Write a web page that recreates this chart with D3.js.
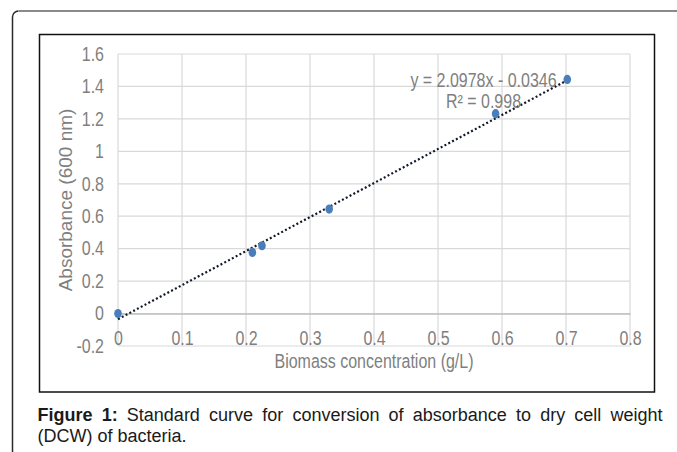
<!DOCTYPE html>
<html>
<head>
<meta charset="utf-8">
<script src="https://cdn.jsdelivr.net/npm/d3@7"></script>
<style>
    body { margin: 0; background: #fff; }
    svg { display: block; font-family: "Liberation Sans", Arial, sans-serif; }
</style>
</head>
<body>
<svg id="chart"></svg>
<script>
// Data
const concentration = [0, 0.21, 0.225, 0.33, 0.59, 0.702];   // g/L
const absorbance = [0, 0.377, 0.418, 0.644, 1.232, 1.443];   // 600 nm
const xTicks = [0, 0.1, 0.2, 0.3, 0.4, 0.5, 0.6, 0.7, 0.8];
const yTicks = [-0.2, 0, 0.2, 0.4, 0.6, 0.8, 1, 1.2, 1.4, 1.6];
const trendSlope = 2.0978;
const trendIntercept = -0.0346;
const equationLines = ["y = 2.0978x - 0.0346", "R² = 0.998"];
const captionBold = "Figure 1:";
const captionLine1 = "Standard curve for conversion of absorbance to dry cell weight";
const captionLine2 = "(DCW) of bacteria.";

class StandardCurve {
    constructor(_config) {
        this.config = {
            parentElement: _config.parentElement,
            containerWidth: 677,
            containerHeight: 452,
            margin: { top: 54, left: 118 },
            width: 512,
            height: 292
        };
        this.initVis();
    }

    initVis() {
        let vis = this;
        const m = vis.config.margin;
        const narrow = 0.82; // chart text is squeezed horizontally
        const textColor = "#7f7f7f";

        vis.svg = d3.select(vis.config.parentElement)
            .attr("width", vis.config.containerWidth)
            .attr("height", vis.config.containerHeight);

        // Page frame (rounded corner top-left)
        vis.svg.append("path")
            .attr("d", "M12.5,460 L12.5,17 A6,6 0 0 1 18.5,11")
            .attr("fill", "none")
            .attr("stroke", "#2b2b2b")
            .attr("stroke-width", 1.5);
        vis.svg.append("path")
            .attr("d", "M18.5,11 L680,11")
            .attr("fill", "none")
            .attr("stroke", "#8a8a8a")
            .attr("stroke-width", 2);

        // Chart box
        vis.svg.append("rect")
            .attr("x", 39.5).attr("y", 34.5)
            .attr("width", 615).attr("height", 357.5)
            .attr("fill", "none")
            .attr("stroke", "#111")
            .attr("stroke-width", 1.5);

        vis.xScale = d3.scaleLinear().domain([0, 0.8]).range([0, vis.config.width]);
        vis.yScale = d3.scaleLinear().domain([-0.2, 1.6]).range([vis.config.height, 0]);

        vis.chart = vis.svg.append("g")
            .attr("transform", `translate(${m.left},${m.top})`);

        // Gridlines
        vis.chart.append("g").selectAll("line")
            .data(yTicks)
            .join("line")
            .attr("x1", 0).attr("x2", vis.config.width)
            .attr("y1", d => vis.yScale(d)).attr("y2", d => vis.yScale(d))
            .attr("stroke", "#d9d9d9").attr("stroke-width", 1.2);
        vis.chart.append("g").selectAll("line")
            .data(xTicks)
            .join("line")
            .attr("x1", d => vis.xScale(d)).attr("x2", d => vis.xScale(d))
            .attr("y1", 0).attr("y2", vis.config.height)
            .attr("stroke", "#d9d9d9").attr("stroke-width", 1.2);

        const fmt = d => String(+d.toFixed(1));

        // Y axis labels
        const yAxis = d3.axisLeft(vis.yScale).tickValues(yTicks).tickFormat(fmt).tickSize(0);
        const yAxisG = vis.chart.append("g").call(yAxis);
        yAxisG.select(".domain").remove();
        yAxisG.selectAll("text")
            .attr("x", -14 / narrow)
            .attr("transform", `scale(${narrow},1)`)
            .style("font-size", "19.5px")
            .style("fill", textColor);

        // X axis at y = 0
        const xAxis = d3.axisBottom(vis.xScale).tickValues(xTicks).tickFormat(fmt).tickSize(0);
        const xAxisG = vis.chart.append("g")
            .attr("transform", `translate(0,${vis.yScale(0)})`)
            .call(xAxis);
        xAxisG.select(".domain")
            .attr("stroke", "#bfbfbf").attr("stroke-width", 1.6);
        xAxisG.selectAll("text")
            .attr("y", 18)
            .attr("transform", `scale(${narrow},1)`)
            .style("font-size", "19.5px")
            .style("fill", textColor);

        // Axis titles
        vis.svg.append("text")
            .attr("transform", `translate(${m.left + vis.config.width / 2},368) scale(${narrow},1)`)
            .attr("text-anchor", "middle")
            .style("font-size", "19.5px")
            .style("fill", textColor)
            .text("Biomass concentration (g/L)");
        vis.svg.append("text")
            .attr("transform", `translate(72,${m.top + vis.config.height / 2}) rotate(-90)`)
            .attr("text-anchor", "middle")
            .style("font-size", "19px")
            .style("fill", textColor)
            .text("Absorbance (600 nm)");

        // Linear trendline over the data range
        const xMax = d3.max(concentration);
        vis.chart.append("line")
            .attr("x1", vis.xScale(0)).attr("y1", vis.yScale(trendIntercept))
            .attr("x2", vis.xScale(xMax)).attr("y2", vis.yScale(trendSlope * xMax + trendIntercept))
            .attr("stroke", "#101828")
            .attr("stroke-width", 2.2)
            .attr("stroke-dasharray", "2,2.3");

        // Data points
        const points = concentration.map((c, i) => ({ c: c, a: absorbance[i] }));
        vis.chart.append("g").selectAll("ellipse")
            .data(points)
            .join("ellipse")
            .attr("cx", d => vis.xScale(d.c))
            .attr("cy", d => vis.yScale(d.a))
            .attr("rx", 3.8).attr("ry", 4.6)
            .attr("fill", "#4a7ebb");

        // Trendline equation
        vis.svg.selectAll(".eq")
            .data(equationLines)
            .join("text")
            .attr("class", "eq")
            .attr("transform", (d, i) => `translate(483.5,${87 + i * 21}) scale(${narrow},1)`)
            .attr("text-anchor", "middle")
            .style("font-size", "19.5px")
            .style("fill", textColor)
            .text(d => d);

        vis.drawCaption();
    }

    drawCaption() {
        let vis = this;
        const left = 37.5, right = 662.5;
        const cap = vis.svg.append("g").style("font-size", "18px").style("fill", "#1a1a1a");

        // Line 1 is justified: spread words across the full width
        const items = [];
        captionBold.split(" ").forEach(w => items.push({ w: w, bold: true }));
        captionLine1.split(" ").forEach(w => items.push({ w: w, bold: false }));

        const texts = cap.selectAll(".w")
            .data(items)
            .join("text")
            .attr("class", "w")
            .attr("y", 421)
            .style("font-weight", d => d.bold ? "bold" : "normal")
            .text(d => d.w);

        const widths = [];
        texts.each(function () { widths.push(this.getComputedTextLength()); });
        const gap = (right - left - d3.sum(widths)) / (items.length - 1);
        let x = left;
        texts.attr("x", (d, i) => {
            const pos = x;
            x += widths[i] + gap;
            return pos;
        });

        cap.append("text")
            .attr("x", left)
            .attr("y", 442)
            .text(captionLine2);
    }
}

new StandardCurve({ parentElement: "#chart" });
</script>
</body>
</html>
